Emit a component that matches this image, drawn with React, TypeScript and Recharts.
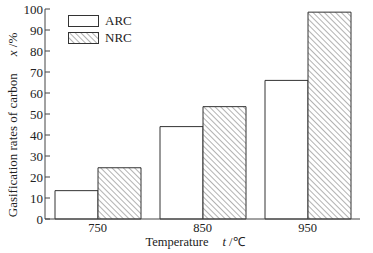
import React from 'react';
import { BarChart, Bar, XAxis, YAxis, Legend } from 'recharts';

const temperatures = ['750', '850', '950'];
const arcRates = [13.5, 44, 66];
const nrcRates = [24.4, 53.5, 98.5];
const yTicks = [0, 10, 20, 30, 40, 50, 60, 70, 80, 90, 100];

const data = temperatures.map((t, i) => ({ temp: t, ARC: arcRates[i], NRC: nrcRates[i] }));

const FONT = '"Liberation Serif", "Times New Roman", serif';

const Hatch = ({ id }: { id: string }) => (
  <pattern id={id} patternUnits="userSpaceOnUse" width="4" height="4" patternTransform="rotate(-45)">
    <rect width="4" height="4" fill="#fff" />
    <line x1="0" y1="0" x2="0" y2="4" stroke="#666" strokeWidth="1" />
  </pattern>
);

const LegendBox = () => (
  <div style={{ fontFamily: FONT, fontSize: 13, color: '#222', lineHeight: '17px' }}>
    {['ARC', 'NRC'].map((name) => (
      <div key={name} style={{ display: 'flex', alignItems: 'center', height: 17 }}>
        <svg width={31} height={12} style={{ marginRight: 6 }}>
          <defs>
            <Hatch id="legendHatch" />
          </defs>
          <rect
            x={0.5}
            y={0.5}
            width={30}
            height={11}
            fill={name === 'NRC' ? 'url(#legendHatch)' : '#fff'}
            stroke="#333"
          />
        </svg>
        <span>{name}</span>
      </div>
    ))}
  </div>
);

const YLabel = () => (
  <text
    x={0}
    y={0}
    transform="translate(17,125) rotate(-90)"
    textAnchor="middle"
    fontFamily={FONT}
    fontSize={13}
    fill="#222"
  >
    Gasification rates of carbon
    <tspan dx={17} fontStyle="italic">x</tspan>
    <tspan> /%</tspan>
  </text>
);

const XLabel = () => (
  <text x={195} y={246} textAnchor="middle" fontFamily={FONT} fontSize={12.5} fill="#222">
    Temperature
    <tspan dx={14} fontStyle="italic">t</tspan>
    <tspan> /℃</tspan>
  </text>
);

export default function App() {
  return (
    <div style={{ position: 'absolute', left: 0, top: 0, background: '#fff' }}>
      <BarChart
        width={373}
        height={253}
        data={data}
        margin={{ top: 9, right: 13, left: 0, bottom: 4 }}
        barCategoryGap={10}
        barGap={0}
      >
        <defs>
          <Hatch id="barHatch" />
        </defs>
        <XAxis
          dataKey="temp"
          axisLine={{ stroke: '#444' }}
          tickLine={false}
          tickSize={0}
          tickMargin={4}
          height={30}
          tick={{ fontFamily: FONT, fontSize: 12.5, fill: '#222' }}
        />
        <XAxis xAxisId="top" orientation="top" dataKey="temp" height={0} tick={false} tickLine={false} axisLine={{ stroke: '#999' }} />
        <YAxis
          domain={[0, 100]}
          ticks={yTicks}
          interval={0}
          width={45}
          axisLine={{ stroke: '#444' }}
          tickLine={{ stroke: '#444' }}
          tickSize={-5}
          tickMargin={7}
          tick={{ fontFamily: FONT, fontSize: 13, fill: '#222' }}
        />
        <YAxis yAxisId="right" orientation="right" width={0} tick={false} tickLine={false} axisLine={{ stroke: '#999' }} />
        <Legend
          layout="vertical"
          verticalAlign="middle"
          align="center"
          wrapperStyle={{ position: 'absolute', left: 68, top: 12, width: 'auto' }}
          content={() => <LegendBox />}
        />
        <Bar dataKey="ARC" fill="#fff" stroke="#333" strokeWidth={1} isAnimationActive={false} />
        <Bar dataKey="NRC" fill="url(#barHatch)" stroke="#333" strokeWidth={1} isAnimationActive={false} />
        <YLabel />
        <XLabel />
      </BarChart>
    </div>
  );
}
